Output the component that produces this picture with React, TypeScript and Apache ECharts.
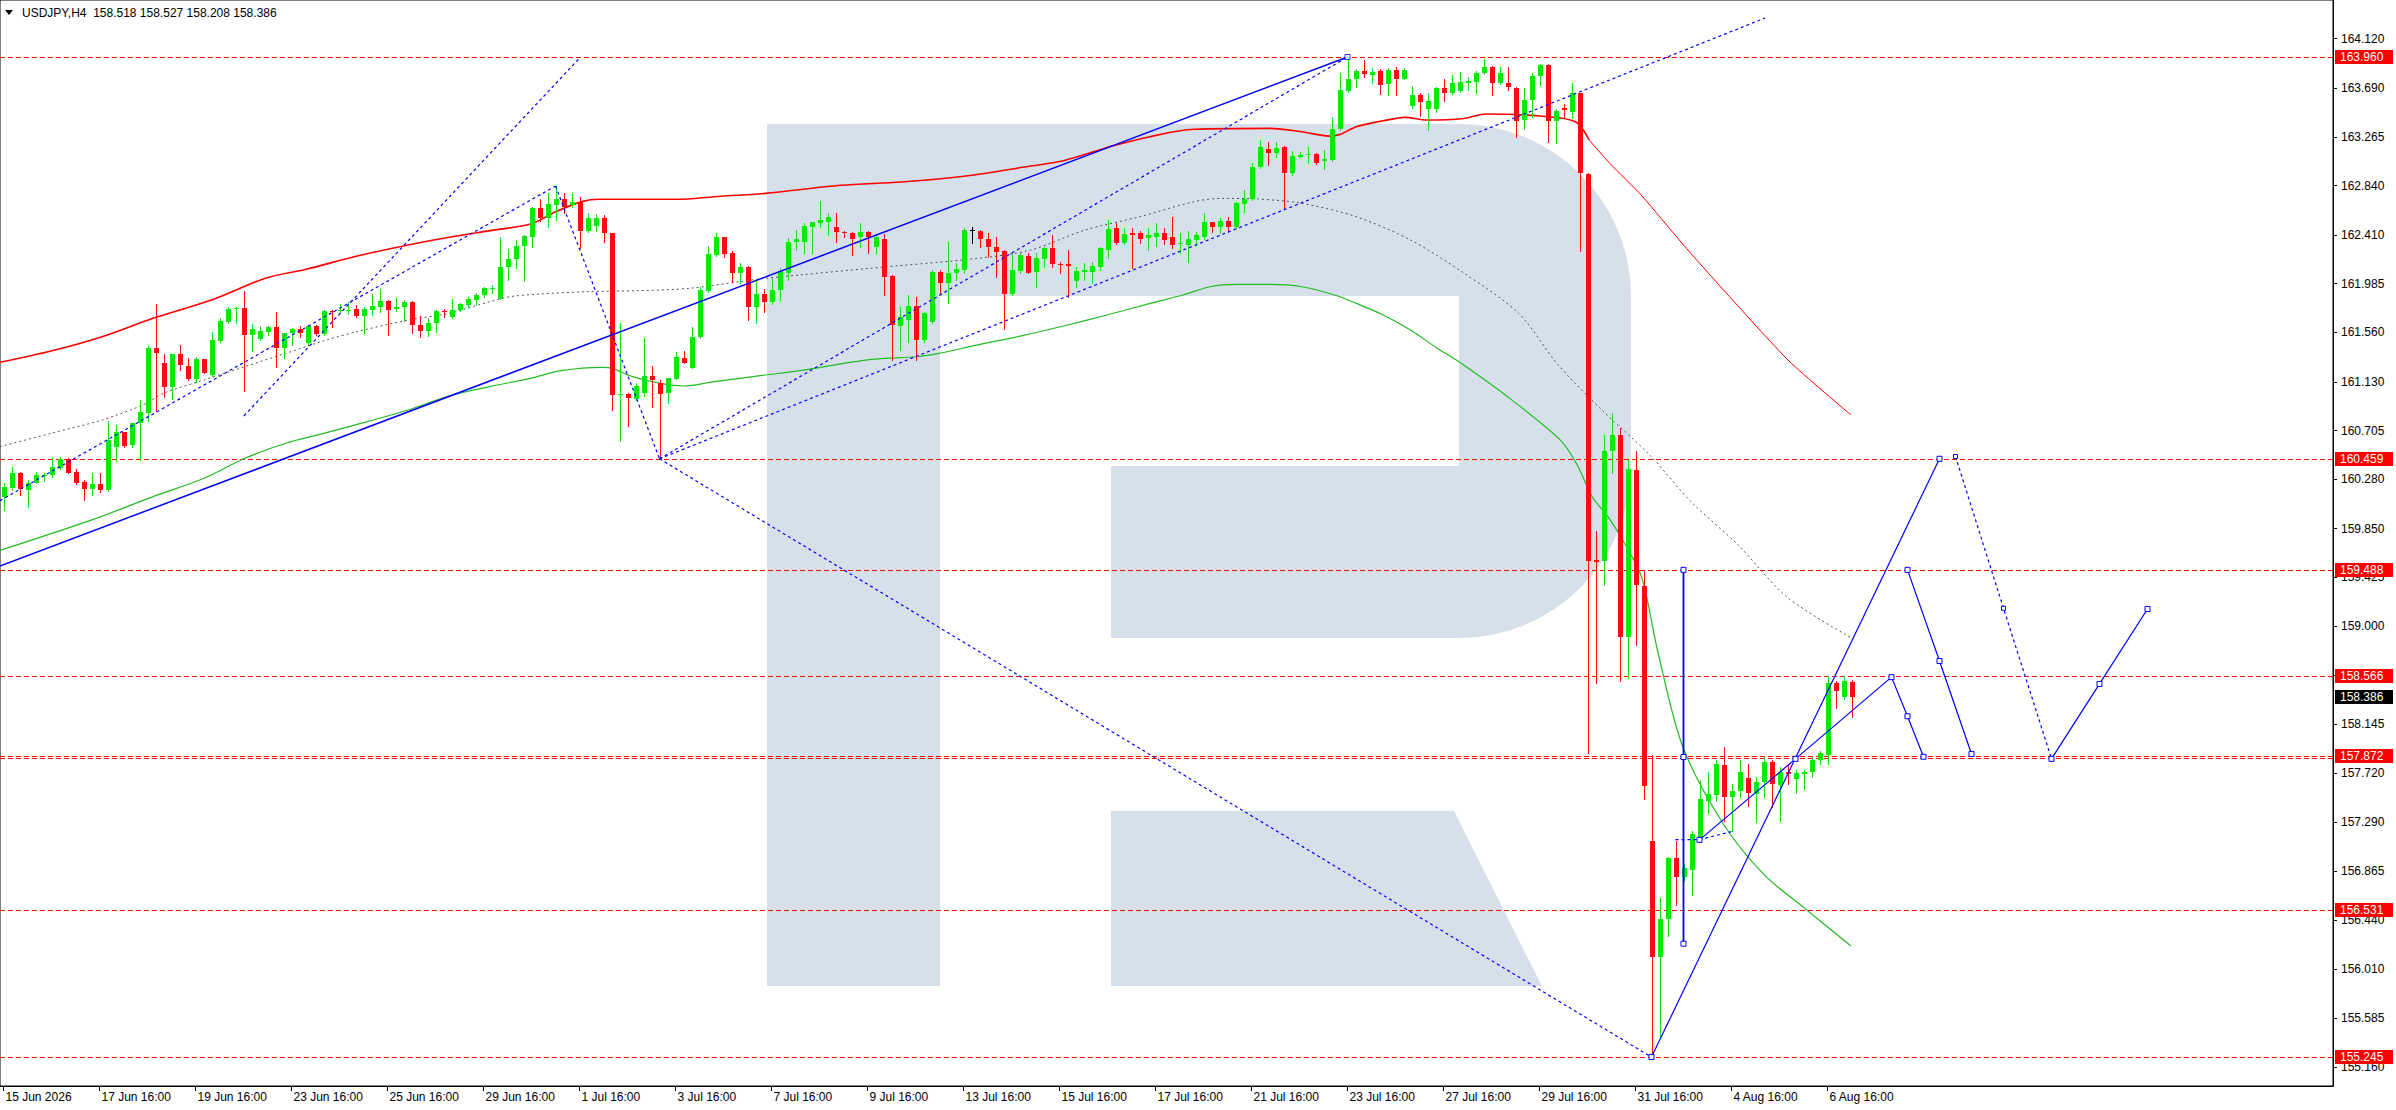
import React, { useEffect, useRef } from 'react';
import * as echarts from 'echarts';

const FONT = '"Liberation Sans", Arial, sans-serif';
const BULL = '#14e414';
const BEAR = '#ff0a0a';
const DOJI = '#000000';
const BLUE = '#0000ff';
const LOGO_COLOR = '#d6e0eb';

const X_MIN = -0.4375;
const X_MAX = 291.1875;
const Y_MIN = 154.993;
const Y_MAX = 164.457;

// [open, high, low, close], bars 0..79 (15 Jun 16:00 ..)
const BARS_A = [
  [160.129,160.245,160.013,160.216],[160.202,160.390,160.187,160.338],[160.338,160.347,160.143,160.193],[160.187,160.274,160.036,160.251],
  [160.245,160.347,160.245,160.318],[160.309,160.338,160.268,160.318],[160.318,160.463,160.303,160.385],[160.376,160.472,160.367,160.454],
  [160.454,160.463,160.332,160.338],[160.347,160.367,160.239,160.251],[160.260,160.274,160.100,160.193],[160.193,160.338,160.143,160.239],
  [160.239,160.338,160.172,160.187],[160.187,160.791,160.181,160.623],[160.565,160.751,160.443,160.692],[160.692,160.695,160.565,160.570],
  [160.576,160.770,160.565,160.768],[160.768,160.971,160.448,160.867],[160.861,161.442,160.791,161.424],[161.424,161.808,160.878,161.384],
  [161.291,161.372,161.000,161.088],[161.088,161.375,160.977,161.372],[161.372,161.451,161.233,161.279],[161.271,161.334,161.146,161.154],
  [161.151,161.343,161.131,161.326],[161.326,161.330,161.204,161.210],[161.189,161.564,161.180,161.491],[161.488,161.683,161.480,161.657],
  [161.654,161.785,161.640,161.764],[161.761,161.785,161.645,161.773],[161.773,161.918,161.053,161.541],[161.541,161.634,161.395,161.587],
  [161.503,161.619,161.494,161.570],[161.567,161.616,161.535,161.605],[161.605,161.738,161.262,161.427],[161.427,161.558,161.334,161.552],
  [161.552,161.599,161.453,161.587],[161.587,161.616,161.517,161.552],[161.465,161.628,161.451,161.616],[161.616,161.628,161.535,161.546],
  [161.546,161.756,161.538,161.744],[161.750,161.756,161.610,161.738],[161.744,161.808,161.727,161.756],[161.750,161.828,161.721,161.759],
  [161.764,161.799,161.698,161.703],[161.706,161.785,161.552,161.764],[161.756,161.895,161.712,161.791],[161.785,161.936,161.735,161.834],
  [161.834,161.843,161.538,161.756],[161.761,161.857,161.750,161.779],[161.779,161.843,161.663,161.825],[161.825,161.834,161.558,161.625],
  [161.625,161.703,161.523,161.576],[161.573,161.683,161.529,161.645],[161.645,161.756,161.564,161.744],[161.747,161.761,161.698,161.738],
  [161.698,161.849,161.689,161.756],[161.756,161.820,161.750,161.808],[161.799,161.872,161.785,161.849],[161.843,161.901,161.799,161.889],
  [161.886,161.959,161.872,161.947],[161.936,161.973,161.901,161.944],[161.854,162.389,161.849,162.133],[162.127,162.290,162.017,162.203],
  [162.197,162.366,162.119,162.313],[162.313,162.409,162.011,162.401],[162.395,162.656,162.308,162.642],[162.642,162.720,162.534,162.555],
  [162.555,162.772,162.482,162.677],[162.671,162.836,162.540,162.720],[162.720,162.772,162.598,162.656],[162.671,162.772,162.656,162.700],
  [162.694,162.743,162.293,162.447],[162.447,162.598,162.438,162.555],[162.488,162.592,162.447,162.555],[162.555,162.581,162.351,162.424],
  [162.424,162.430,160.884,161.015],[161.015,161.640,160.617,161.021],[161.021,161.030,160.745,160.986],[160.977,161.117,160.971,161.093],
];
// bars 80..159
const BARS_B = [
  [161.030,161.509,161.006,161.180],[161.180,161.268,160.913,161.146],[161.117,161.146,160.459,161.024],[161.030,161.166,160.942,161.160],
  [161.157,161.392,161.151,161.343],[161.334,161.395,161.291,161.297],[161.253,161.605,161.247,161.523],[161.517,161.959,161.514,161.930],
  [161.921,162.313,161.915,162.241],[162.235,162.424,162.226,162.389],[162.389,162.395,162.220,162.241],[162.249,162.270,162.003,162.075],
  [162.075,162.162,161.988,162.133],[162.133,162.142,161.668,161.785],[161.785,162.008,161.645,161.895],[161.895,161.936,161.741,161.828],
  [161.828,162.034,161.808,161.930],[161.930,162.119,161.843,162.098],[162.081,162.380,162.017,162.348],[162.348,162.453,162.279,162.371],
  [162.351,162.516,162.249,162.487],[162.481,162.525,162.249,162.522],[162.516,162.702,162.481,162.539],[162.525,162.597,162.409,162.568],
  [162.481,162.597,162.351,162.438],[162.435,162.446,162.394,162.423],[162.429,162.438,162.234,162.371],[162.388,162.510,162.307,162.435],
  [162.435,162.446,162.249,162.394],[162.307,162.409,162.249,162.388],[162.371,162.417,161.886,162.046],[162.051,162.060,161.319,161.624],
  [161.616,161.784,161.406,161.691],[161.668,161.886,161.479,161.793],[161.790,161.871,161.319,161.494],[161.494,161.741,161.479,161.726],
  [161.650,162.104,161.639,162.089],[162.083,162.104,161.900,161.987],[161.987,162.351,161.813,162.075],[162.075,162.168,162.016,162.110],
  [162.104,162.467,162.075,162.452],[162.455,162.475,162.336,162.455],[162.444,162.452,162.307,162.374],[162.374,162.423,162.220,162.307],
  [162.307,162.394,162.046,162.263],[162.272,162.278,161.592,161.894],[161.894,162.263,161.886,162.104],[162.098,162.249,162.075,162.234],
  [162.226,162.249,162.075,162.080],[162.089,162.249,161.958,162.205],[162.199,162.307,162.133,162.292],[162.292,162.409,162.133,162.156],
  [162.156,162.176,162.075,162.144],[162.156,162.278,161.871,162.139],[162.011,162.133,161.958,162.098],[162.089,162.168,162.016,162.104],
  [162.089,162.176,161.987,162.138],[162.133,162.307,162.104,162.292],[162.278,162.539,162.205,162.461],[162.473,162.510,162.330,162.342],
  [162.336,162.467,162.330,162.417],[162.423,162.467,162.118,162.412],[162.423,162.444,162.336,162.374],[162.380,162.467,162.278,162.409],
  [162.394,162.516,162.313,162.429],[162.429,162.467,162.330,162.365],[162.394,162.568,162.292,162.322],[162.327,162.423,162.249,162.336],
  [162.325,162.446,162.176,162.371],[162.365,162.438,162.322,162.409],[162.394,162.597,162.371,162.519],[162.519,162.525,162.438,162.481],
  [162.475,162.554,162.429,162.534],[162.531,162.568,162.438,162.481],[162.481,162.699,162.467,162.685],[162.679,162.801,162.612,162.725],
  [162.719,163.033,162.714,163.004],[163.004,163.237,162.990,163.173],[163.155,163.222,163.019,163.126],[163.126,163.222,163.091,163.164],
];
// bars 160..231
const BARS_C = [
  [163.178,163.184,162.641,162.952],[162.952,163.144,162.932,163.097],[163.091,163.135,163.085,163.106],[163.103,163.173,163.033,163.112],
  [163.112,163.126,163.027,163.033],[163.056,163.149,162.981,163.071],[163.062,163.440,163.056,163.332],[163.330,163.818,163.324,163.672],
  [163.666,163.960,163.658,163.765],[163.765,163.852,163.701,163.838],[163.838,163.934,163.788,163.809],[163.803,163.861,163.730,163.832],
  [163.841,163.852,163.637,163.716],[163.722,163.861,163.629,163.847],[163.847,163.870,163.629,163.765],[163.771,163.861,163.765,163.847],
  [163.533,163.707,163.513,163.629],[163.629,163.643,163.446,163.571],[163.504,163.643,163.324,163.576],[163.504,163.701,163.483,163.693],
  [163.687,163.765,163.579,163.649],[163.649,163.803,163.637,163.736],[163.666,163.832,163.658,163.745],[163.730,163.783,163.672,163.751],
  [163.745,163.841,163.643,163.818],[163.818,163.940,163.809,163.876],[163.876,163.881,163.629,163.736],[163.730,163.876,163.725,163.818],
  [163.730,163.876,163.672,163.695],[163.693,163.701,163.266,163.405],[163.411,163.687,163.330,163.585],[163.585,163.823,163.440,163.794],
  [163.794,163.899,163.716,163.890],[163.890,163.899,163.222,163.405],[163.405,163.504,163.208,163.492],[163.520,163.550,163.430,163.500],
  [163.483,163.736,163.431,163.643],[163.643,163.649,162.272,162.952],[162.937,162.950,157.891,159.567],[159.580,159.832,158.509,159.560],
  [159.567,160.667,159.361,160.526],[160.526,160.861,160.332,160.667],[160.667,160.726,158.526,158.903],[158.903,160.449,158.550,160.373],
  [160.361,160.526,158.832,159.361],[159.349,159.479,157.491,157.609],[157.127,157.880,155.245,156.115],[156.115,156.627,155.422,156.451],
  [156.451,156.985,156.304,156.980],[156.980,157.127,156.568,156.815],[156.815,156.930,156.780,156.892],[156.874,157.215,156.656,157.185],
  [157.156,157.656,157.127,157.491],[157.479,157.733,157.374,157.538],[157.527,157.833,157.479,157.803],[157.791,157.950,157.303,157.509],
  [157.509,157.627,157.215,157.568],[157.568,157.833,157.509,157.727],[157.680,157.803,157.433,157.550],[157.538,157.685,157.291,157.644],
  [157.638,157.856,157.509,157.815],[157.815,157.833,157.421,157.621],[157.615,157.774,157.303,157.733],[157.733,157.797,157.621,157.709],
  [157.668,157.744,157.550,157.721],[157.715,157.744,157.585,157.727],[157.727,157.862,157.685,157.833],[157.833,157.915,157.803,157.891],
  [157.880,158.567,157.803,158.509],[158.503,158.521,158.285,158.438],[158.380,158.567,158.362,158.521],[158.518,158.527,158.208,158.386],
];

const TICK_BARS = [0,12,24,36,48,60,72,84,96,108,120,132,144,156,168,180,192,204,216,228];
const TICK_LABELS = ['15 Jun 2026','17 Jun 16:00','19 Jun 16:00','23 Jun 16:00','25 Jun 16:00','29 Jun 16:00','1 Jul 16:00',
  '3 Jul 16:00','7 Jul 16:00','9 Jul 16:00','13 Jul 16:00','15 Jul 16:00','17 Jul 16:00','21 Jul 16:00','23 Jul 16:00',
  '27 Jul 16:00','29 Jul 16:00','31 Jul 16:00','4 Aug 16:00','6 Aug 16:00'];
const Y_TICKS = [164.120,163.690,163.265,162.840,162.410,161.985,161.560,161.130,160.705,160.280,159.850,159.425,159.000,
  158.570,158.145,157.720,157.290,156.865,156.440,156.010,155.585,155.160];

const RED_LEVELS = [163.960, 160.459, 159.488, 158.566, 157.872, 156.531, 155.245];
const EXTRA_LEVELS = [157.855];
const BID = 158.386;

const MA_RED = [[-0.44,161.300],[5.94,161.398],[12.32,161.523],[18.70,161.683],[26.35,161.852],[32.73,162.032],[37.83,162.110],
  [44.20,162.226],[50.58,162.322],[55.68,162.389],[60.79,162.447],[65.89,162.505],[69.08,162.613],[72.27,162.700],[74.50,162.720],
  [84.38,162.720],[88.85,162.743],[95.22,162.772],[104.7,162.842],[112.2,162.871],[120.3,162.923],[128.4,163.010],[132.5,163.056],
  [138.6,163.184],[143.3,163.266],[148.8,163.330],[158.2,163.338],[162.3,163.309],[165.7,163.271],[167.1,163.286],[169.1,163.353],
  [172.5,163.405],[175.2,163.434],[177.9,163.411],[182.6,163.425],[185.3,163.463],[192.1,163.446],[196.5,163.396],[198.2,163.237]];
const MA_RED_TAIL = [[198.2,163.237],[200.8,163.033],[204.8,162.750],[209.9,162.330],[215.0,161.930],[223.2,161.310],[230.9,160.843]];
const MA_GREEN = [[-0.44,159.660],[11.04,159.926],[18.70,160.129],[25.07,160.289],[30.17,160.463],[35.28,160.594],[40.38,160.687],
  [45.48,160.783],[50.58,160.884],[55.68,161.006],[60.79,161.088],[65.89,161.160],[69.72,161.227],[74.82,161.256],[76.09,161.247],
  [78.64,161.175],[82.47,161.111],[85.02,161.093],[88.85,161.131],[95.22,161.189],[99.56,161.227],[108.45,161.325],[114.21,161.348],
  [116.92,161.377],[121.66,161.450],[127.08,161.528],[132.50,161.616],[137.92,161.712],[143.34,161.813],[147.41,161.886],
  [150.80,161.958],[154.18,161.979],[158.25,161.979],[162.31,161.958],[166.38,161.886],[169.09,161.813],[172.47,161.712],
  [175.86,161.581],[179.25,161.421],[181.62,161.319],[188.0,161.000],[194.55,160.626],[196.6,160.420],[198.6,160.126],
  [200.6,159.950],[202.7,159.714],[204.8,159.421],[206.8,158.774],[209.9,157.951],[215.0,157.274],[220.1,156.833],
  [225.2,156.539],[230.9,156.216]];
const GRAY_CURVE = [[-0.44,160.565],[5.94,160.681],[12.32,160.797],[17.42,160.928],[19.97,161.029],[25.07,161.146],[30.17,161.262],
  [35.28,161.378],[40.38,161.494],[44.2,161.567],[50.58,161.668],[55.68,161.727],[60.79,161.828],[63.34,161.872],[67.16,161.895],
  [72.9,161.915],[79.3,161.924],[85.66,161.944],[92.04,162.003],[95.22,162.032],[99.56,162.061],[108.1,162.118],[121.7,162.205],
  [128.4,162.278],[135.2,162.452],[142.0,162.568],[148.8,162.699],[152.2,162.728],[156.9,162.722],[162.3,162.685],[169.1,162.568],
  [175.9,162.365],[182.6,162.075],[189.4,161.726],[194.3,161.280],[199.7,160.890],[205.8,160.490],[211.0,160.080],[216.8,159.710],
  [223.0,159.250],[231.2,158.890]];

const TREND_MAIN = [[-0.44,159.524],[168,163.960]];
const ZIG_UP = [[-0.44,160.094],[69,162.836]];
const ZIG_DOWN = [[69,162.836],[82,160.459]];
const FAN_LOW = [[82,160.459],[206,155.245]];
const FAN_PEAK = [[82,160.459],[168,163.960]];
const FAN_TOP = [[82,160.459],[220.2,164.300]];
const CHANNEL_TOP = [[30.05,160.832],[72,163.950]];
const WAVE_UP = [[206,155.245],[242,160.459]];
const WAVE_DOTTED = [[244,160.479],[250,159.156],[256,157.844]];
const WAVE_NEXT = [[256,157.844],[262,158.497],[268,159.150]];
const WAVE_ALT = [[238,159.491],[242,158.697],[246,157.886]];
const WAVE_NOW = [[212,157.138],[224,157.844],[236,158.556],[238,158.215],[240,157.862]];
const RANGE_BAR = [[210,159.491],[210,157.860],[210,156.233]];
const SMALL_DOT = [[209,157.140],[212,157.140],[216,157.210]];
const PEAK_MARK = [[168,163.960]];

const LOGO_PATH = 'M767 124 L1459 124 A172 172 0 0 1 1631 296 L1631 466 A172 172 0 0 1 1459 638 L1111 638 L1111 466 L1459 466 L1459 296 L940 296 L940 986 L767 986 Z';
const LOGO_LEG = [[1111,811],[1454,811],[1542,986],[1111,986]];

try {
  echarts.graphic.registerShape('rfLogo', echarts.graphic.extendPath(LOGO_PATH, {}));
} catch (e) { /* already registered */ }

function lineSeries(data: number[][], color: string, width: number, type: any, z: number, extra: any = {}) {
  return {
    type: 'line', data, z, silent: true, animation: false,
    showSymbol: false, symbol: 'rect', symbolSize: 5,
    itemStyle: { color: '#ffffff', borderColor: color, borderWidth: 1 },
    lineStyle: { color, width, type },
    emphasis: { disabled: true },
    ...extra,
  };
}

export default function App() {
  const ref = useRef<HTMLDivElement>(null);
  useEffect(() => {
    document.body.style.margin = '0';
    const chart = echarts.init(ref.current!, undefined, { renderer: 'svg' });
    const bars = [...BARS_A, ...BARS_B, ...BARS_C].map((b, i) => [i, b[0], b[1], b[2], b[3]]);
    const dot: any = [3, 3];
    const option: any = {
      animation: false,
      backgroundColor: '#ffffff',
      textStyle: { fontFamily: FONT },
      grid: { left: 0, top: 0, right: 63, bottom: 24, show: true, borderColor: '#000', borderWidth: 1, backgroundColor: 'transparent' },
      xAxis: {
        type: 'value', min: X_MIN, max: X_MAX,
        axisLine: { show: true, onZero: false, lineStyle: { color: '#000', width: 1 } },
        splitLine: { show: false },
        axisTick: { show: true, customValues: TICK_BARS, length: 5, lineStyle: { color: '#000' } },
        axisLabel: {
          customValues: TICK_BARS, align: 'left', margin: 5, color: '#000', fontSize: 12, fontFamily: FONT,
          padding: [0, 0, 0, 2],
          formatter: (v: number) => { const k = TICK_BARS.indexOf(Math.round(v)); return k >= 0 ? TICK_LABELS[k] : ''; },
        },
      },
      yAxis: {
        type: 'value', position: 'right', min: Y_MIN, max: Y_MAX, scale: true,
        axisLine: { show: true, onZero: false, lineStyle: { color: '#000', width: 1 } },
        splitLine: { show: false },
        axisTick: { show: true, customValues: Y_TICKS, length: 4, lineStyle: { color: '#000' } },
        axisLabel: { customValues: Y_TICKS, margin: 8, color: '#000', fontSize: 12, fontFamily: FONT, formatter: (v: number) => v.toFixed(3) },
      },
      graphic: [
        { type: 'rfLogo', x: 0, y: 0, z: 0, silent: true, style: { fill: LOGO_COLOR } },
        { type: 'polygon', z: 0, silent: true, shape: { points: LOGO_LEG }, style: { fill: LOGO_COLOR } },
        { type: 'polygon', z: 10, silent: true, shape: { points: [[5, 10], [13, 10], [9, 15]] }, style: { fill: '#000' } },
        { type: 'text', x: 22, y: 13, z: 10, silent: true,
          style: { text: 'USDJPY,H4  158.518 158.527 158.208 158.386', font: `12px ${FONT}`, fill: '#000', verticalAlign: 'middle' } },
      ],
      series: [
        {
          type: 'custom', z: 3, silent: true, clip: false,
          data: [...RED_LEVELS, ...EXTRA_LEVELS].map((p) => [X_MIN, p]),
          encode: { x: 0, y: 1 },
          renderItem: (params: any, api: any) => {
            const p = api.value(1);
            const a = api.coord([X_MIN, p]);
            const b = api.coord([X_MAX, p]);
            const y = Math.round(a[1]) + 0.5;
            return { type: 'line', shape: { x1: a[0], y1: y, x2: b[0], y2: y }, style: { stroke: '#ff0000', lineWidth: 1, lineDash: [5, 3] } };
          },
        },
        lineSeries(GRAY_CURVE, '#555555', 1, [2, 3], 4, { smooth: 0.3 }),
        lineSeries(MA_GREEN, '#22bb22', 1.2, 'solid', 4, { smooth: 0.3 }),
        lineSeries(MA_RED, '#ff0000', 1.6, 'solid', 4, { smooth: 0.3 }),
        lineSeries(MA_RED_TAIL, '#ff0000', 1, 'solid', 4, { smooth: 0.2 }),
        {
          type: 'custom', z: 5, silent: true,
          data: bars,
          encode: { x: 0, y: [1, 2, 3, 4] },
          renderItem: (params: any, api: any) => {
            const i = api.value(0), o = api.value(1), h = api.value(2), l = api.value(3), c = api.value(4);
            const po = api.coord([i, o]);
            const pc = api.coord([i, c]);
            const ph = api.coord([i, h]);
            const pl = api.coord([i, l]);
            const cx = Math.round(po[0]);
            const color = c > o ? BULL : c < o ? BEAR : DOJI;
            const top = Math.round(Math.min(po[1], pc[1]));
            const bot = Math.round(Math.max(po[1], pc[1]));
            return {
              type: 'group',
              children: [
                { type: 'line', shape: { x1: cx + 0.5, y1: Math.round(ph[1]), x2: cx + 0.5, y2: Math.round(pl[1]) + 1 }, style: { stroke: color, lineWidth: 1 } },
                { type: 'rect', shape: { x: cx - 2, y: top, width: 5, height: Math.max(1, bot - top) }, style: { fill: color } },
              ],
            };
          },
        },
        lineSeries(TREND_MAIN, BLUE, 1.5, 'solid', 6),
        lineSeries(ZIG_UP, BLUE, 1.2, dot, 6),
        lineSeries(ZIG_DOWN, BLUE, 1.2, dot, 6),
        lineSeries(FAN_LOW, BLUE, 1.2, dot, 6),
        lineSeries(FAN_PEAK, BLUE, 1.2, dot, 6),
        lineSeries(FAN_TOP, BLUE, 1.2, dot, 6),
        lineSeries(CHANNEL_TOP, BLUE, 1.2, dot, 6),
        lineSeries(SMALL_DOT, BLUE, 1.2, dot, 6),
        lineSeries(WAVE_UP, BLUE, 1.2, 'solid', 7, { showSymbol: true }),
        lineSeries(WAVE_DOTTED, BLUE, 1.2, dot, 7, { showSymbol: true, symbolSize: 4 }),
        lineSeries(WAVE_NEXT, BLUE, 1.2, 'solid', 7, { showSymbol: true }),
        lineSeries(WAVE_ALT, BLUE, 1.2, 'solid', 7, { showSymbol: true }),
        lineSeries(WAVE_NOW, BLUE, 1.2, 'solid', 7, { showSymbol: true }),
        lineSeries(RANGE_BAR, BLUE, 1.8, 'solid', 7, { showSymbol: true }),
        { type: 'scatter', data: PEAK_MARK, z: 7, silent: true, symbol: 'rect', symbolSize: 5, itemStyle: { color: '#fff', borderColor: BLUE, borderWidth: 1 } },
        {
          type: 'custom', z: 20, silent: true, clip: false,
          data: [...RED_LEVELS.map((p) => [X_MAX, p, 0]), [X_MAX, BID, 1]],
          encode: { x: 0, y: 1 },
          renderItem: (params: any, api: any) => {
            const p = api.value(1);
            const kind = api.value(2);
            const pt = api.coord([X_MAX, p]);
            const x = Math.round(pt[0]) + 2;
            const y = Math.round(pt[1]);
            return {
              type: 'group',
              children: [
                { type: 'rect', shape: { x, y: y - 7, width: 58, height: 14 }, style: { fill: kind ? '#000000' : '#ff0000' } },
                { type: 'text', x: x + 5, y: y, style: { text: p.toFixed(3), fill: '#ffffff', font: `12px ${FONT}`, verticalAlign: 'middle', align: 'left' } },
              ],
            };
          },
        },
      ],
    };
    chart.setOption(option);
    return () => chart.dispose();
  }, []);
  return <div ref={ref} style={{ position: 'fixed', left: 0, top: 0, width: 2396, height: 1110, background: '#fff' }} />;
}
